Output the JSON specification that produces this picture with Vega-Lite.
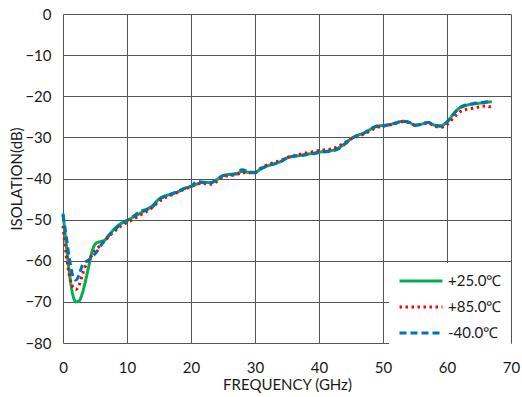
{
  "$schema": "https://vega.github.io/schema/vega-lite/v6.json",
  "width": 448,
  "height": 329,
  "autosize": {"type": "none"},
  "padding": {"left": 63, "top": 14, "right": 11, "bottom": 54},
  "background": "white",
  "config": {
    "font": "Lato",
    "view": {"stroke": null},
    "axis": {"labelFont": "Lato", "titleFont": "Lato", "labelFontSize": 15, "titleFontSize": 15, "labelColor": "#1a1a1a", "titleColor": "#1a1a1a", "titleFontWeight": "normal", "gridColor": "#555555", "gridOpacity": 1, "gridWidth": 1, "domain": false, "ticks": false}
  },
  "data": {"values": [
    {"f":0,"db":-48.5,"s":"+25.0℃"},{"f":0.5,"db":-56,"s":"+25.0℃"},{"f":1,"db":-63,"s":"+25.0℃"},{"f":1.5,"db":-68,"s":"+25.0℃"},{"f":2,"db":-70,"s":"+25.0℃"},{"f":2.5,"db":-69.8,"s":"+25.0℃"},{"f":3,"db":-68,"s":"+25.0℃"},{"f":3.5,"db":-65,"s":"+25.0℃"},{"f":4,"db":-61.5,"s":"+25.0℃"},{"f":4.5,"db":-58,"s":"+25.0℃"},{"f":5,"db":-56,"s":"+25.0℃"},{"f":5.5,"db":-55.5,"s":"+25.0℃"},{"f":6,"db":-55.3,"s":"+25.0℃"},{"f":6.5,"db":-55,"s":"+25.0℃"},{"f":7,"db":-54.2,"s":"+25.0℃"},{"f":7.5,"db":-53.2,"s":"+25.0℃"},{"f":8,"db":-52.3,"s":"+25.0℃"},{"f":9,"db":-51,"s":"+25.0℃"},{"f":10,"db":-50.2,"s":"+25.0℃"},{"f":11,"db":-49.4,"s":"+25.0℃"},{"f":12,"db":-48.5,"s":"+25.0℃"},{"f":13,"db":-47.6,"s":"+25.0℃"},{"f":14,"db":-46.6,"s":"+25.0℃"},{"f":15,"db":-45,"s":"+25.0℃"},{"f":16,"db":-44.2,"s":"+25.0℃"},{"f":17,"db":-43.8,"s":"+25.0℃"},{"f":18,"db":-43.2,"s":"+25.0℃"},{"f":19,"db":-42.4,"s":"+25.0℃"},{"f":20,"db":-41.9,"s":"+25.0℃"},{"f":21,"db":-41.3,"s":"+25.0℃"},{"f":22,"db":-40.9,"s":"+25.0℃"},{"f":23,"db":-41,"s":"+25.0℃"},{"f":24,"db":-40.3,"s":"+25.0℃"},{"f":25,"db":-39.3,"s":"+25.0℃"},{"f":26,"db":-39,"s":"+25.0℃"},{"f":27,"db":-38.9,"s":"+25.0℃"},{"f":28,"db":-38.3,"s":"+25.0℃"},{"f":29,"db":-38.5,"s":"+25.0℃"},{"f":30,"db":-38.5,"s":"+25.0℃"},{"f":31,"db":-37.5,"s":"+25.0℃"},{"f":32,"db":-36.9,"s":"+25.0℃"},{"f":33,"db":-36.4,"s":"+25.0℃"},{"f":34,"db":-35.9,"s":"+25.0℃"},{"f":35,"db":-35,"s":"+25.0℃"},{"f":36,"db":-34.6,"s":"+25.0℃"},{"f":37,"db":-34.4,"s":"+25.0℃"},{"f":38,"db":-34.1,"s":"+25.0℃"},{"f":39,"db":-33.9,"s":"+25.0℃"},{"f":40,"db":-33.6,"s":"+25.0℃"},{"f":41,"db":-33.4,"s":"+25.0℃"},{"f":42,"db":-33.2,"s":"+25.0℃"},{"f":43,"db":-32.6,"s":"+25.0℃"},{"f":44,"db":-31.6,"s":"+25.0℃"},{"f":45,"db":-30.3,"s":"+25.0℃"},{"f":46,"db":-29.5,"s":"+25.0℃"},{"f":47,"db":-29,"s":"+25.0℃"},{"f":48,"db":-28.1,"s":"+25.0℃"},{"f":49,"db":-27.3,"s":"+25.0℃"},{"f":50,"db":-27.1,"s":"+25.0℃"},{"f":51,"db":-26.9,"s":"+25.0℃"},{"f":52,"db":-26.5,"s":"+25.0℃"},{"f":53,"db":-26.1,"s":"+25.0℃"},{"f":54,"db":-26.3,"s":"+25.0℃"},{"f":55,"db":-27,"s":"+25.0℃"},{"f":56,"db":-26.8,"s":"+25.0℃"},{"f":57,"db":-26.4,"s":"+25.0℃"},{"f":58,"db":-27,"s":"+25.0℃"},{"f":59,"db":-27.2,"s":"+25.0℃"},{"f":60,"db":-26.2,"s":"+25.0℃"},{"f":61,"db":-24.3,"s":"+25.0℃"},{"f":62,"db":-22.8,"s":"+25.0℃"},{"f":63,"db":-22.2,"s":"+25.0℃"},{"f":64,"db":-21.9,"s":"+25.0℃"},{"f":65,"db":-21.7,"s":"+25.0℃"},{"f":66,"db":-21.5,"s":"+25.0℃"},{"f":67,"db":-21.3,"s":"+25.0℃"},
    {"f":0,"db":-51.5,"s":"+85.0℃"},{"f":0.5,"db":-58.5,"s":"+85.0℃"},{"f":1,"db":-63.5,"s":"+85.0℃"},{"f":1.5,"db":-66.3,"s":"+85.0℃"},{"f":2,"db":-67,"s":"+85.0℃"},{"f":2.5,"db":-66,"s":"+85.0℃"},{"f":3,"db":-63.5,"s":"+85.0℃"},{"f":3.5,"db":-61.3,"s":"+85.0℃"},{"f":4,"db":-59.9,"s":"+85.0℃"},{"f":4.5,"db":-58.7,"s":"+85.0℃"},{"f":5,"db":-57.6,"s":"+85.0℃"},{"f":5.5,"db":-56.8,"s":"+85.0℃"},{"f":6,"db":-55.9,"s":"+85.0℃"},{"f":6.5,"db":-55.2,"s":"+85.0℃"},{"f":7,"db":-54.4,"s":"+85.0℃"},{"f":7.5,"db":-53.6,"s":"+85.0℃"},{"f":8,"db":-52.9,"s":"+85.0℃"},{"f":9,"db":-51.6,"s":"+85.0℃"},{"f":10,"db":-50.7,"s":"+85.0℃"},{"f":11,"db":-49.9,"s":"+85.0℃"},{"f":12,"db":-49,"s":"+85.0℃"},{"f":13,"db":-48.1,"s":"+85.0℃"},{"f":14,"db":-47,"s":"+85.0℃"},{"f":15,"db":-45.6,"s":"+85.0℃"},{"f":16,"db":-44.6,"s":"+85.0℃"},{"f":17,"db":-44,"s":"+85.0℃"},{"f":18,"db":-43.3,"s":"+85.0℃"},{"f":19,"db":-42.6,"s":"+85.0℃"},{"f":20,"db":-42,"s":"+85.0℃"},{"f":21,"db":-41.3,"s":"+85.0℃"},{"f":22,"db":-41.2,"s":"+85.0℃"},{"f":23,"db":-41.4,"s":"+85.0℃"},{"f":24,"db":-40.8,"s":"+85.0℃"},{"f":25,"db":-39.6,"s":"+85.0℃"},{"f":26,"db":-39.3,"s":"+85.0℃"},{"f":27,"db":-39.1,"s":"+85.0℃"},{"f":28,"db":-38.6,"s":"+85.0℃"},{"f":29,"db":-38.6,"s":"+85.0℃"},{"f":30,"db":-38.5,"s":"+85.0℃"},{"f":31,"db":-37.4,"s":"+85.0℃"},{"f":32,"db":-36.6,"s":"+85.0℃"},{"f":33,"db":-36.1,"s":"+85.0℃"},{"f":34,"db":-35.6,"s":"+85.0℃"},{"f":35,"db":-34.9,"s":"+85.0℃"},{"f":36,"db":-34.5,"s":"+85.0℃"},{"f":37,"db":-34.1,"s":"+85.0℃"},{"f":38,"db":-33.8,"s":"+85.0℃"},{"f":39,"db":-33.5,"s":"+85.0℃"},{"f":40,"db":-33.2,"s":"+85.0℃"},{"f":41,"db":-33,"s":"+85.0℃"},{"f":42,"db":-32.8,"s":"+85.0℃"},{"f":43,"db":-32.2,"s":"+85.0℃"},{"f":44,"db":-31.3,"s":"+85.0℃"},{"f":45,"db":-30.4,"s":"+85.0℃"},{"f":46,"db":-29.8,"s":"+85.0℃"},{"f":47,"db":-29.2,"s":"+85.0℃"},{"f":48,"db":-28.4,"s":"+85.0℃"},{"f":49,"db":-27.6,"s":"+85.0℃"},{"f":50,"db":-27.3,"s":"+85.0℃"},{"f":51,"db":-27,"s":"+85.0℃"},{"f":52,"db":-26.6,"s":"+85.0℃"},{"f":53,"db":-26.2,"s":"+85.0℃"},{"f":54,"db":-26.4,"s":"+85.0℃"},{"f":55,"db":-27,"s":"+85.0℃"},{"f":56,"db":-26.8,"s":"+85.0℃"},{"f":57,"db":-26.5,"s":"+85.0℃"},{"f":58,"db":-27.2,"s":"+85.0℃"},{"f":59,"db":-27.6,"s":"+85.0℃"},{"f":60,"db":-26.9,"s":"+85.0℃"},{"f":61,"db":-25.3,"s":"+85.0℃"},{"f":62,"db":-23.8,"s":"+85.0℃"},{"f":63,"db":-23.2,"s":"+85.0℃"},{"f":64,"db":-22.9,"s":"+85.0℃"},{"f":65,"db":-22.6,"s":"+85.0℃"},{"f":66,"db":-22.4,"s":"+85.0℃"},{"f":67,"db":-22.7,"s":"+85.0℃"},
    {"f":0,"db":-48.8,"s":"-40.0℃"},{"f":0.5,"db":-54,"s":"-40.0℃"},{"f":1,"db":-59.5,"s":"-40.0℃"},{"f":1.5,"db":-63.5,"s":"-40.0℃"},{"f":2,"db":-64.7,"s":"-40.0℃"},{"f":2.5,"db":-63.5,"s":"-40.0℃"},{"f":3,"db":-61.2,"s":"-40.0℃"},{"f":3.5,"db":-60.3,"s":"-40.0℃"},{"f":4,"db":-59.8,"s":"-40.0℃"},{"f":4.5,"db":-59.2,"s":"-40.0℃"},{"f":5,"db":-58.3,"s":"-40.0℃"},{"f":5.5,"db":-57.3,"s":"-40.0℃"},{"f":6,"db":-56.1,"s":"-40.0℃"},{"f":6.5,"db":-55.1,"s":"-40.0℃"},{"f":7,"db":-54.1,"s":"-40.0℃"},{"f":7.5,"db":-53.3,"s":"-40.0℃"},{"f":8,"db":-52.6,"s":"-40.0℃"},{"f":9,"db":-51.2,"s":"-40.0℃"},{"f":10,"db":-50.2,"s":"-40.0℃"},{"f":11,"db":-49.2,"s":"-40.0℃"},{"f":12,"db":-48,"s":"-40.0℃"},{"f":13,"db":-47.6,"s":"-40.0℃"},{"f":14,"db":-46.8,"s":"-40.0℃"},{"f":15,"db":-45.1,"s":"-40.0℃"},{"f":16,"db":-44.3,"s":"-40.0℃"},{"f":17,"db":-43.7,"s":"-40.0℃"},{"f":18,"db":-43.1,"s":"-40.0℃"},{"f":19,"db":-42.4,"s":"-40.0℃"},{"f":20,"db":-41.9,"s":"-40.0℃"},{"f":21,"db":-40.7,"s":"-40.0℃"},{"f":22,"db":-41,"s":"-40.0℃"},{"f":23,"db":-41.1,"s":"-40.0℃"},{"f":24,"db":-40.3,"s":"-40.0℃"},{"f":25,"db":-39.3,"s":"-40.0℃"},{"f":26,"db":-39.1,"s":"-40.0℃"},{"f":27,"db":-38.8,"s":"-40.0℃"},{"f":28,"db":-37.9,"s":"-40.0℃"},{"f":29,"db":-38.4,"s":"-40.0℃"},{"f":30,"db":-38.6,"s":"-40.0℃"},{"f":31,"db":-37.6,"s":"-40.0℃"},{"f":32,"db":-36.9,"s":"-40.0℃"},{"f":33,"db":-36.5,"s":"-40.0℃"},{"f":34,"db":-35.9,"s":"-40.0℃"},{"f":35,"db":-35,"s":"-40.0℃"},{"f":36,"db":-34.6,"s":"-40.0℃"},{"f":37,"db":-34.5,"s":"-40.0℃"},{"f":38,"db":-34.2,"s":"-40.0℃"},{"f":39,"db":-34,"s":"-40.0℃"},{"f":40,"db":-33.7,"s":"-40.0℃"},{"f":41,"db":-33.5,"s":"-40.0℃"},{"f":42,"db":-33.3,"s":"-40.0℃"},{"f":43,"db":-32.8,"s":"-40.0℃"},{"f":44,"db":-31.7,"s":"-40.0℃"},{"f":45,"db":-30.4,"s":"-40.0℃"},{"f":46,"db":-29.5,"s":"-40.0℃"},{"f":47,"db":-29,"s":"-40.0℃"},{"f":48,"db":-28,"s":"-40.0℃"},{"f":49,"db":-27.3,"s":"-40.0℃"},{"f":50,"db":-27.2,"s":"-40.0℃"},{"f":51,"db":-26.9,"s":"-40.0℃"},{"f":52,"db":-26.5,"s":"-40.0℃"},{"f":53,"db":-26.1,"s":"-40.0℃"},{"f":54,"db":-26.3,"s":"-40.0℃"},{"f":55,"db":-27.1,"s":"-40.0℃"},{"f":56,"db":-26.8,"s":"-40.0℃"},{"f":57,"db":-26.4,"s":"-40.0℃"},{"f":58,"db":-27,"s":"-40.0℃"},{"f":59,"db":-27.3,"s":"-40.0℃"},{"f":60,"db":-26.3,"s":"-40.0℃"},{"f":61,"db":-24.4,"s":"-40.0℃"},{"f":62,"db":-22.8,"s":"-40.0℃"},{"f":63,"db":-22.1,"s":"-40.0℃"},{"f":64,"db":-21.8,"s":"-40.0℃"},{"f":65,"db":-21.6,"s":"-40.0℃"},{"f":66,"db":-21.4,"s":"-40.0℃"},{"f":67,"db":-21.2,"s":"-40.0℃"}
  ]},
  "mark": {"type": "line", "interpolate": "monotone", "strokeWidth": 3},
  "encoding": {
    "x": {"field": "f", "type": "quantitative", "scale": {"domain": [0, 70], "nice": false}, "axis": {"values": [0,10,20,30,40,50,60,70], "title": "FREQUENCY (GHz)", "labelPadding": 17, "labelFlush": false, "titleX": 224, "titleY": 41, "titleAnchor": "middle", "titleBaseline": "middle"}},
    "y": {"field": "db", "type": "quantitative", "scale": {"domain": [-80, 0], "nice": false}, "axis": {"values": [0,-10,-20,-30,-40,-50,-60,-70,-80], "title": "ISOLATION(dB)", "labelPadding": 12, "labelFlush": false, "titleX": -47, "titleY": 164.5, "titleAnchor": "middle", "titleBaseline": "middle", "titleAngle": 270}},
    "color": {"field": "s", "type": "nominal", "scale": {"domain": ["+25.0℃", "+85.0℃", "-40.0℃"], "range": ["#00B050", "#FF0000", "#0070C0"]},
      "legend": {"title": null, "orient": "none", "legendX": 326, "legendY": 249, "fillColor": "white", "padding": 9, "symbolType": "M-1,0H4.733", "symbolSize": 225, "symbolStrokeWidth": 3, "labelFontSize": 15, "labelFont": "Lato", "labelColor": "#1a1a1a", "rowPadding": 9, "labelOffset": 32}},
    "strokeDash": {"field": "s", "type": "nominal", "scale": {"domain": ["+25.0℃", "+85.0℃", "-40.0℃"], "range": [[1, 0], [2.5, 3.5], [7, 4]]}}
  }
}
